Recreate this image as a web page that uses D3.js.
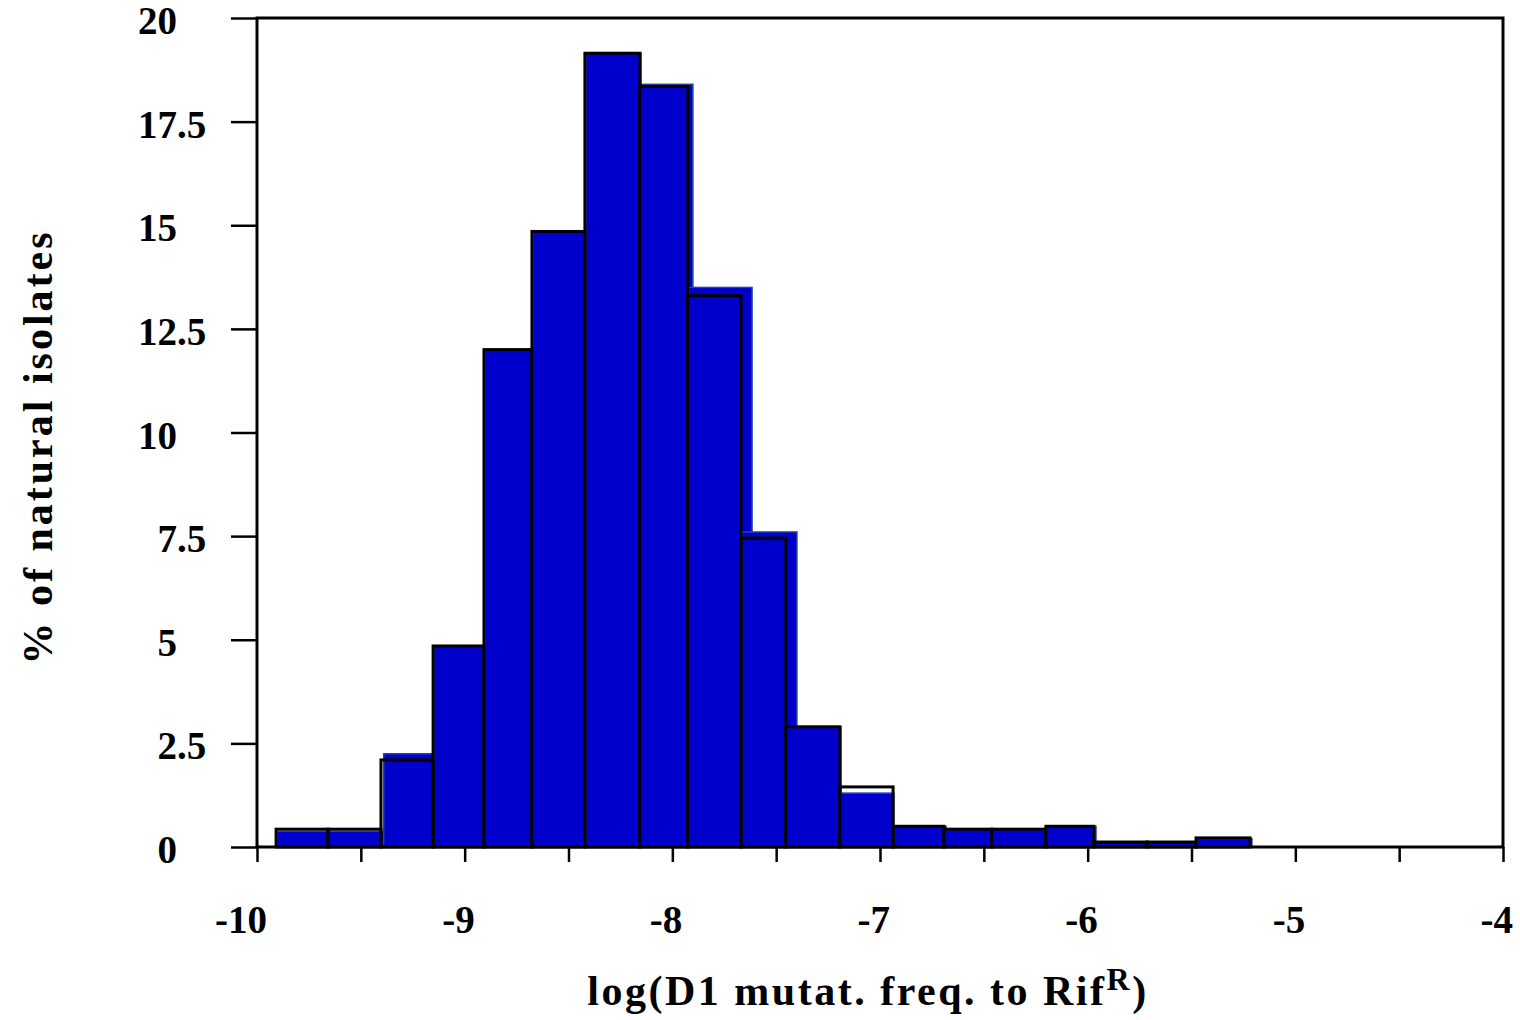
<!DOCTYPE html>
<html>
<head>
<meta charset="utf-8">
<script src="https://cdn.jsdelivr.net/npm/d3@7"></script>
<style>
  body { margin: 0; background: #fff; }
  svg text { font-family: 'Liberation Serif', 'DejaVu Serif', serif; font-weight: bold; fill: #000; }
</style>
</head>
<body>
<div class="chart"></div>
<script>
// outlined histogram (black), bin edges in log units
const outlineEdges = [-9.908, -9.658, -9.403, -9.152, -8.907, -8.676, -8.421, -8.156, -7.925, -7.669,
  -7.453, -7.193, -6.937, -6.692, -6.461, -6.201, -5.970, -5.714, -5.478, -5.218];
const outlineValues = [0.43, 0.43, 2.1, 4.85, 12.0, 14.85, 19.15, 18.35, 13.3, 7.45,
  2.9, 1.45, 0.5, 0.43, 0.43, 0.5, 0.12, 0.12, 0.22];

// filled histogram (blue), its bars start with the outlined ones but end a bit further right
const filledLeft = [-9.903, -9.653, -9.390, -9.147, -8.902, -8.671, -8.416, -8.151, -7.920, -7.664,
  -7.448, -7.188, -6.932, -6.687, -6.456, -6.196, -5.965, -5.709, -5.473];
const filledRight = [-9.648, -9.388, -9.133, -8.859, -8.642, -8.382, -8.151, -7.901, -7.616, -7.400,
  -7.188, -6.933, -6.682, -6.451, -6.191, -5.960, -5.705, -5.469, -5.209];
const filledValues = [0.38, 0.38, 2.25, 4.85, 12.0, 14.85, 19.15, 18.4, 13.5, 7.6,
  2.9, 1.3, 0.5, 0.42, 0.42, 0.5, 0.12, 0.12, 0.2];

const yTicks = [0, 2.5, 5, 7.5, 10, 12.5, 15, 17.5, 20];
const xTicks = [-10, -9.5, -9, -8.5, -8, -7.5, -7, -6.5, -6, -5.5, -5, -4.5, -4];
const xLabels = [-10, -9, -8, -7, -6, -5, -4];

const graphConfig = {
  width: 1520, height: 1020,
  margin: { top: 18, right: 17, bottom: 173, left: 257 }
};

function drawGraph() {
  const svg = d3.select('.chart')
    .append('svg')
    .attr('width', graphConfig.width)
    .attr('height', graphConfig.height);

  const x = d3.scaleLinear()
    .domain([-10, -4])
    .range([graphConfig.margin.left, graphConfig.width - graphConfig.margin.right]);

  const y = d3.scaleLinear()
    .domain([0, 20])
    .range([graphConfig.height - graphConfig.margin.bottom, graphConfig.margin.top]);

  const outlineBins = outlineValues.map((v, i) => ({ x0: outlineEdges[i], x1: outlineEdges[i + 1], v: v }));
  const filledBins = filledValues.map((v, i) => ({ x0: filledLeft[i], x1: filledRight[i], v: v }));

  // blue bars first
  svg.append('g')
    .selectAll('rect')
    .data(filledBins)
    .join('rect')
    .attr('x', d => x(d.x0))
    .attr('y', d => y(d.v))
    .attr('width', d => x(d.x1) - x(d.x0))
    .attr('height', d => y(0) - y(d.v))
    .attr('fill', '#0000cc')
    .attr('stroke', '#2244aa')
    .attr('stroke-width', 1.5);

  // black outlines on top
  svg.append('g')
    .selectAll('rect')
    .data(outlineBins)
    .join('rect')
    .attr('x', d => x(d.x0))
    .attr('y', d => y(d.v))
    .attr('width', d => x(d.x1) - x(d.x0))
    .attr('height', d => y(0) - y(d.v))
    .attr('fill', 'none')
    .attr('stroke', '#000')
    .attr('stroke-width', 3);

  // frame
  svg.append('rect')
    .attr('x', x(-10))
    .attr('y', y(20))
    .attr('width', x(-4) - x(-10))
    .attr('height', y(0) - y(20))
    .attr('fill', 'none')
    .attr('stroke', '#000')
    .attr('stroke-width', 3);

  // y axis ticks
  const yAxis = svg.append('g')
    .attr('transform', `translate(${x(-10)}, 0)`)
    .call(d3.axisLeft(y).tickValues(yTicks).tickSize(26).tickFormat(''));
  yAxis.select('.domain').remove();
  yAxis.selectAll('line').attr('stroke-width', 2.5);

  // y labels aligned on decimal point
  const yLab = svg.append('g').style('font-size', '39px');
  yTicks.forEach(t => {
    const parts = String(t).split('.');
    yLab.append('text')
      .attr('x', 177)
      .attr('y', y(t) + 16)
      .attr('text-anchor', 'end')
      .text(parts[0]);
    if (parts[1]) {
      yLab.append('text')
        .attr('x', 177)
        .attr('y', y(t) + 16)
        .text('.' + parts[1]);
    }
  });

  // x axis ticks
  const xAxis = svg.append('g')
    .attr('transform', `translate(0, ${y(0)})`)
    .call(d3.axisBottom(x).tickValues(xTicks).tickSize(15).tickFormat(''));
  xAxis.select('.domain').remove();
  xAxis.selectAll('line').attr('stroke-width', 2.5);

  svg.append('g')
    .style('font-size', '39px')
    .attr('text-anchor', 'end')
    .selectAll('text')
    .data(xLabels)
    .join('text')
    .attr('x', d => x(d) + 10)
    .attr('y', 933)
    .text(d => d);

  // axis titles
  svg.append('text')
    .attr('transform', 'translate(52, 447) rotate(-90)')
    .attr('text-anchor', 'middle')
    .style('font-size', '42px')
    .style('letter-spacing', '3px')
    .text('% of natural isolates');

  const xt = svg.append('text')
    .attr('x', 868)
    .attr('y', 1005)
    .attr('text-anchor', 'middle')
    .style('font-size', '42px')
    .style('letter-spacing', '2.5px');
  xt.append('tspan').text('log(D1 mutat. freq. to Rif');
  xt.append('tspan').attr('dy', -15).style('font-size', '32px').text('R');
  xt.append('tspan').attr('dy', 15).text(')');
}

drawGraph();
</script>
</body>
</html>
